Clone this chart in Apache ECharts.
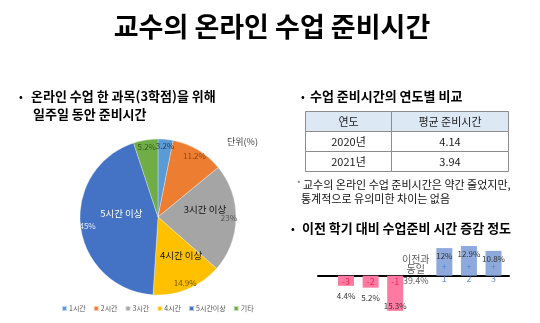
<!DOCTYPE html>
<html>
<head>
<meta charset="utf-8">
<script src="https://cdn.jsdelivr.net/npm/echarts@6/dist/echarts.min.js"></script>
<style>
  html, body { margin: 0; padding: 0; background: #fff; }
  #chart { width: 540px; height: 323px; }
</style>
</head>
<body>
<div id="chart"></div>
<script>
const FONT = '"Noto Sans CJK KR", "Noto Sans", sans-serif';

// Pie: weekly preparation time for one 3-credit online course (%)
const pieCategories = ['1시간', '2시간', '3시간', '4시간', '5시간이상', '기타'];
const pieValues = [3.2, 11.2, 23, 14.9, 45, 5.2];
const pieInnerNames = ['', '', '3시간 이상', '4시간 이상', '5시간 이상', ''];

// Table: average preparation time by year
const tableHeader = ['연도', '평균 준비시간'];
const tableYears = ['2020년', '2021년'];
const tableHours = ['4.14', '3.94'];

// Bars: change in preparation time compared with the previous semester (%)
const changeSteps = [-3, -2, -1, 0, 1, 2, 3];
const changeShares = [4.4, 5.2, 15.3, 39.4, 12, 12.9, 10.8];
const stepLabels = ['-3', '-2', '-1', '', '1', '2', '3'];

// styling
const pieColors = ['#5b9bd5', '#ed7d31', '#a5a5a5', '#ffc000', '#4472c4', '#70ad47'];
const piePctColors = ['#2b3a55', '#8a4718', '#555555', '#6b5200', '#e4ebf7', '#34591f'];
const pieNameColors = ['#000', '#000', '#111', '#111', '#ffffff', '#000'];
const pieNameNudges = [[0, 0], [0, 0], [5, -8], [7, 0], [5, -9], [0, 0]];
const DOWN_COLOR = '#ff7aa2';
const UP_COLOR = '#8eaadc';

const chart = echarts.init(document.getElementById('chart'));

// table cells as graphic elements
const tableX = [305.5, 391.5, 508.5];
const tableY0 = 111.5, rowH = 20;
const tableRows = [tableHeader].concat(tableYears.map((y, i) => [y, tableHours[i]]));
const tableGraphics = [];
tableRows.forEach((row, r) => {
  row.forEach((t, c) => {
    tableGraphics.push({
      type: 'rect',
      shape: { x: tableX[c], y: tableY0 + r * rowH, width: tableX[c + 1] - tableX[c], height: rowH },
      style: { fill: r === 0 ? '#dde8f5' : '#fff', stroke: '#8c8c8c', lineWidth: 1 }
    });
    tableGraphics.push({
      type: 'text',
      x: (tableX[c] + tableX[c + 1]) / 2,
      y: tableY0 + r * rowH + rowH / 2,
      style: { text: t, font: '11px ' + FONT, fill: '#1a1a1a', textAlign: 'center', textVerticalAlign: 'middle' }
    });
  });
});

function txt(text, x, y, font, fill, align) {
  return {
    type: 'text', x, y,
    style: { text, font: font + ' ' + FONT, fill: fill || '#000', textAlign: align || 'left', textVerticalAlign: 'middle' }
  };
}

const barData = changeSteps.map((s, i) => {
  if (s === 0) return null;
  const v = s < 0 ? -changeShares[i] : changeShares[i];
  let pos = 'insideTop', dist = 4;
  if (s < 0) {
    pos = changeShares[i] > 10 ? 'insideBottom' : 'bottom';
    dist = changeShares[i] > 10 ? 1 : 6;
  }
  return {
    value: [s, v],
    itemStyle: { color: s < 0 ? DOWN_COLOR : UP_COLOR },
    label: { position: pos, distance: dist }
  };
}).filter(d => d);

const stepData = changeSteps.map((s, i) => {
  if (s === 0) return null;
  return {
    value: [s, 0],
    label: s < 0
      ? { formatter: stepLabels[i], color: '#f0143c', fontSize: 9, offset: [0, 6] }
      : { formatter: '{p|+}\n{n|' + stepLabels[i] + '}', offset: [0, -2.7] }
  };
}).filter(d => d);

const zeroIdx = changeSteps.indexOf(0);

const option = {
  animation: false,
  textStyle: { fontFamily: FONT },
  legend: {
    left: 61, top: 305, padding: 0,
    itemWidth: 5, itemHeight: 5, itemGap: 7, icon: 'rect',
    textStyle: { fontSize: 7, color: '#595959', fontFamily: FONT, padding: [0, 0, 0, -3] },
    data: pieCategories.map((n, i) => ({ name: n, itemStyle: { color: pieColors[i] } })),
    selectedMode: false
  },
  grid: { left: 318, right: 31, top: 243.5, bottom: 10.5 },
  xAxis: {
    type: 'value', min: -4.14, max: 3.63,
    axisLine: { show: true, onZero: true, lineStyle: { color: '#000', width: 2 } },
    axisTick: { show: false }, axisLabel: { show: false }, splitLine: { show: false }
  },
  yAxis: { type: 'value', min: -16, max: 14, show: false },
  series: [
    {
      type: 'pie', center: [158, 217], radius: 78, startAngle: 90,
      silent: true,
      itemStyle: { borderColor: 'rgba(255,255,255,0.6)', borderWidth: 0.5 },
      data: pieCategories.map((n, i) => ({
        name: n, value: pieValues[i],
        itemStyle: { color: pieColors[i] },
        label: { color: pieNameColors[i], offset: pieNameNudges[i] }
      })),
      label: {
        show: true, position: 'inside', fontSize: 9.5, fontFamily: FONT,
        formatter: p => pieInnerNames[p.dataIndex]
      },
      labelLayout: { hideOverlap: false },
      labelLine: { show: false }
    },
    {
      type: 'pie', center: [158, 217], radius: [58, 78], startAngle: 90,
      silent: true,
      data: pieCategories.map((n, i) => ({
        name: n, value: pieValues[i],
        itemStyle: { color: 'rgba(0,0,0,0)' },
        label: { color: piePctColors[i] }
      })),
      label: {
        show: true, position: 'inside', fontSize: 8, fontFamily: FONT,
        formatter: p => pieValues[p.dataIndex] + '%'
      },
      labelLayout: { hideOverlap: false },
      labelLine: { show: false }
    },
    {
      type: 'bar', barWidth: 16, silent: true,
      data: barData,
      label: {
        show: true, fontSize: 8, color: '#333', fontFamily: FONT,
        formatter: p => Math.abs(p.value[1]) + '%'
      }
    },
    {
      type: 'scatter', symbolSize: 0, silent: true,
      data: stepData,
      label: {
        show: true, position: 'inside', fontFamily: FONT,
        rich: {
          p: { fontSize: 9, color: '#3d7bd9', lineHeight: 12, fontFamily: FONT },
          n: { fontSize: 9, color: '#3d7bd9', lineHeight: 12, fontFamily: FONT }
        }
      }
    },
    {
      type: 'scatter', symbolSize: 0, silent: true,
      data: [[0, 0]],
      label: {
        show: true, position: 'inside', offset: [-4, -4.7],
        formatter: '{a|이전과}\n{a|동일}\n{b|' + changeShares[zeroIdx] + '%}',
        rich: {
          a: { fontSize: 10, color: '#333', lineHeight: 10, fontFamily: FONT },
          b: { fontSize: 9, color: '#333', lineHeight: 14, fontFamily: FONT }
        }
      }
    }
  ],
  graphic: [
    txt('교수의 온라인 수업 준비시간', 272, 27, 'bold 27px', '#000', 'center'),
    txt('•', 19, 96, 'bold 10px'),
    txt('온라인 수업 한 과목(3학점)을 위해', 31, 96, 'bold 13px'),
    txt('일주일 동안 준비시간', 33, 114, 'bold 13px'),
    txt('단위(%)', 227, 142, '9px', '#404040'),
    txt('•', 301, 96, 'bold 10px'),
    txt('수업 준비시간의 연도별 비교', 310, 96, 'bold 13px'),
    txt('*', 297, 184, '8px', '#555'),
    txt('교수의 온라인 수업 준비시간은 약간 줄었지만,', 303, 185, '11px', '#111'),
    txt('통계적으로 유의미한 차이는 없음', 301, 199, '11px', '#111'),
    txt('•', 291, 228, 'bold 10px'),
    txt('이전 학기 대비 수업준비 시간 증감 정도', 302, 228, 'bold 13px')
  ].concat(tableGraphics)
};

chart.setOption(option);
</script>
</body>
</html>
